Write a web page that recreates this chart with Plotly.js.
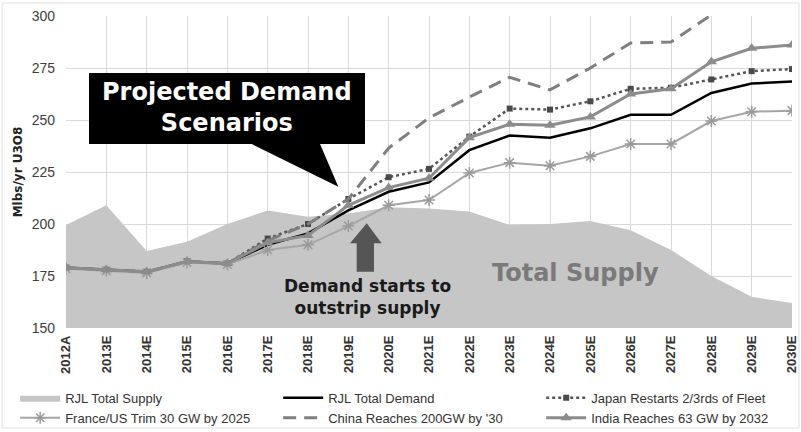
<!DOCTYPE html>
<html>
<head>
<meta charset="utf-8">
<script src="https://cdn.plot.ly/plotly-3.0.1.min.js"></script>
<style>
  html, body { margin: 0; padding: 0; background: #ffffff; }
  #chart { width: 801px; height: 432px; }
</style>
</head>
<body>
<div id="chart"></div>
<script>
// Uranium supply vs. projected demand scenarios (Mlbs/yr U3O8)
const years = ['2012A', '2013E', '2014E', '2015E', '2016E', '2017E', '2018E', '2019E', '2020E',
  '2021E', '2022E', '2023E', '2024E', '2025E', '2026E', '2027E', '2028E', '2029E', '2030E'];

const totalSupply = [199.5, 209, 187, 191.5, 200, 206.5, 203.5, 205, 208, 207.5, 206, 199.5, 200, 201.5, 197, 187.5, 175, 165, 162];
const totalDemand = [179, 178, 177, 182, 181, 190, 195.5, 206.5, 215.5, 220, 235.5, 242.5, 241.5, 246, 252.5, 252.5, 263, 267.5, 268.5];
const japanRestarts = [179, 178, 177, 182, 181, 193, 200, 212, 222.5, 226.5, 242, 255.5, 255, 259, 265, 265.5, 269.5, 273.5, 274.5];
const franceUsTrim = [178.5, 177.5, 176.5, 181.5, 180.5, 187.5, 190, 199, 209, 211.5, 224.5, 229.5, 228, 232.5, 238.5, 238.5, 249.5, 254, 254.5];
const china200 = [179, 178, 177, 182, 181, 192, 200, 212, 236.5, 251, 261, 270.5, 264.5, 275, 287, 287.5, 300.5, 308, 312];
const india63 = [179, 178, 177, 182, 181, 191, 194.5, 209, 217.5, 222, 241.5, 248, 247.5, 251.5, 262.5, 265, 278, 284.5, 286];

const seriesNames = ['RJL Total Supply', 'RJL Total Demand', 'Japan Restarts 2/3rds of Fleet',
  'France/US Trim 30 GW by 2025', "China Reaches 200GW by '30", 'India Reaches 63 GW by 2032'];

const yTicks = [150, 175, 200, 225, 250, 275, 300];

const traces = [
  {
    x: years, y: totalSupply, name: seriesNames[0], type: 'scatter', mode: 'lines',
    fill: 'tozeroy', fillcolor: '#c6c6c6', line: { width: 0, color: '#c6c6c6' }
  },
  {
    x: years, y: totalDemand, name: seriesNames[1], type: 'scatter', mode: 'lines',
    line: { color: '#000000', width: 2.5 }
  },
  {
    x: years, y: japanRestarts, name: seriesNames[2], type: 'scatter', mode: 'lines+markers',
    line: { color: '#555555', width: 2.5, dash: 'dot' },
    marker: { symbol: 'square', size: 6, color: '#4a4a4a' }
  },
  {
    x: years, y: franceUsTrim, name: seriesNames[3], type: 'scatter', mode: 'lines+markers',
    line: { color: '#a6a6a6', width: 2 },
    marker: { symbol: 'asterisk-open', size: 10, color: '#9a9a9a', line: { color: '#9a9a9a', width: 1.5 } }
  },
  {
    x: years, y: china200, name: seriesNames[4], type: 'scatter', mode: 'lines',
    line: { color: '#7f7f7f', width: 3, dash: '13px,8px' }
  },
  {
    x: years, y: india63, name: seriesNames[5], type: 'scatter', mode: 'lines+markers',
    line: { color: '#8c8c8c', width: 3 },
    marker: { symbol: 'triangle-up', size: 10, color: '#8c8c8c' }
  }
];

// callout box with its pointer, and the upward arrow (paper coordinates)
const calloutPath = 'M 0.0317 0.8173 L 0.4118 0.8173 L 0.4118 0.5897 L 0.3499 0.5897 ' +
  'L 0.3751 0.4529 L 0.2558 0.5897 L 0.0317 0.5897 Z';
const arrowPath = 'M 0.4142 0.3356 L 0.4348 0.2715 L 0.4242 0.2715 L 0.4242 0.1804 ' +
  'L 0.4004 0.1804 L 0.4004 0.2715 L 0.3912 0.2715 Z';

const layout = {
  width: 801, height: 432,
  margin: { l: 66, r: 9, t: 16, b: 104, autoexpand: false },
  paper_bgcolor: '#ffffff', plot_bgcolor: '#ffffff',
  showlegend: true,
  xaxis: {
    type: 'category', range: [0, 18],
    showgrid: true, gridcolor: '#d9d9d9', gridwidth: 1,
    zeroline: false, showline: false, ticks: '',
    tickangle: -90, ticklabelstandoff: 4,
    tickfont: { family: 'Liberation Sans, Arial, sans-serif', size: 13, color: '#333333', weight: 'bold' }
  },
  yaxis: {
    range: [150, 300], tickvals: yTicks,
    showgrid: true, gridcolor: '#d9d9d9', gridwidth: 1,
    zeroline: false, showline: false, ticks: '', ticklabelstandoff: 10,
    tickfont: { family: 'Liberation Sans, Arial, sans-serif', size: 14, color: '#404040' },
    title: {
      text: 'Mlbs/yr U3O8', standoff: 6,
      font: { family: 'DejaVu Sans, sans-serif', size: 12, color: '#222222', weight: 'bold' }
    }
  },
  legend: {
    orientation: 'h', x: -0.07, xanchor: 'left', y: -0.176, yanchor: 'top',
    entrywidth: 208, entrywidthmode: 'pixels', itemwidth: 40,
    tracegroupgap: 0, bgcolor: 'rgba(0,0,0,0)',
    font: { family: 'Liberation Sans, Arial, sans-serif', size: 13, color: '#333333' }
  },
  shapes: [
    { type: 'path', xref: 'paper', yref: 'paper', path: calloutPath,
      fillcolor: '#000000', line: { width: 0 } },
    { type: 'path', xref: 'paper', yref: 'paper', path: arrowPath,
      fillcolor: '#555555', line: { width: 0 } },
    { type: 'rect', xref: 'paper', yref: 'paper', x0: -0.088, x1: 1.0096, y0: -0.3205, y1: 1.0417,
      line: { color: '#e0e0e0', width: 1 }, fillcolor: 'rgba(0,0,0,0)', layer: 'below' }
  ],
  annotations: [
    { xref: 'paper', yref: 'paper', x: 0.2218, y: 0.7083, xanchor: 'center', yanchor: 'middle',
      showarrow: false, align: 'center',
      text: 'Projected Demand<br>Scenarios',
      font: { family: 'DejaVu Sans, sans-serif', size: 24, color: '#ffffff', weight: 'bold' } },
    { xref: 'paper', yref: 'paper', x: 0.4153, y: 0.0978, xanchor: 'center', yanchor: 'middle',
      showarrow: false, align: 'center',
      text: 'Demand starts to<br>outstrip supply',
      font: { family: 'DejaVu Sans, sans-serif', size: 17, color: '#1a1a1a', weight: 'bold' } },
    { xref: 'paper', yref: 'paper', x: 0.7018, y: 0.1772, xanchor: 'center', yanchor: 'middle',
      showarrow: false,
      text: 'Total Supply',
      font: { family: 'DejaVu Sans, sans-serif', size: 24, color: '#7a7a7a', weight: 'bold' } }
  ]
};

Plotly.newPlot('chart', traces, layout, { displayModeBar: false, staticPlot: true });
</script>
</body>
</html>
